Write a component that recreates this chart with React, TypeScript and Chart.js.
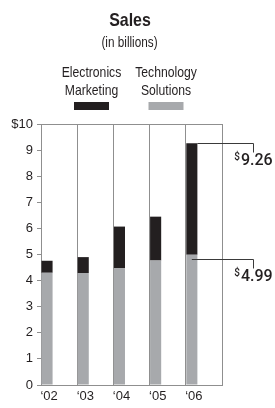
import React, { useEffect, useRef } from 'react';
import { Chart, registerables } from 'chart.js';

Chart.register(...registerables);

// ---- data ----
const years = ['‘02', '‘03', '‘04', '‘05', '‘06'];
const technologySolutions = [4.3, 4.29, 4.47, 4.77, 4.99];
const electronicsMarketing = [0.46, 0.61, 1.6, 1.68, 4.27];
const yMin = 0;
const yMax = 10;
const yStep = 1;
const titleText = 'Sales';
const subtitleText = '(in billions)';
const emLegendLines = ['Electronics', 'Marketing'];
const tsLegendLines = ['Technology', 'Solutions'];

// ---- style ----
const EM_COLOR = '#231f20';
const TS_COLOR = '#a7a9ac';
const GRID_COLOR = '#8f8f8f';
const TEXT_COLOR = '#231f20';
const REGULAR = "'Liberation Sans', Arial, sans-serif";
const CALLOUT_FONT = "Roboto, 'Liberation Sans', sans-serif";
const CONDENSE = 0.84;

function fillCondensed(ctx: CanvasRenderingContext2D, text: string, cx: number, y: number) {
  ctx.save();
  ctx.translate(cx, y);
  ctx.scale(CONDENSE, 1);
  ctx.textAlign = 'center';
  ctx.fillText(text, 0, 0);
  ctx.restore();
}

const decorPlugin = {
  id: 'decor',
  afterDraw(chart: any) {
    const { ctx, chartArea } = chart;
    const { left, right, top } = chartArea;
    ctx.save();

    // plot box: top line
    ctx.strokeStyle = GRID_COLOR;
    ctx.lineWidth = 1;
    ctx.beginPath();
    ctx.moveTo(left, Math.round(top) + 0.5);
    ctx.lineTo(right, Math.round(top) + 0.5);
    ctx.stroke();

    // title
    ctx.fillStyle = TEXT_COLOR;
    ctx.textBaseline = 'alphabetic';
    ctx.font = `bold 19px ${REGULAR}`;
    fillCondensed(ctx, titleText, 130, 26);
    ctx.font = `14px ${REGULAR}`;
    fillCondensed(ctx, subtitleText, 129.5, 47);

    // legend
    const legendItems = [
      { lines: emLegendLines, color: EM_COLOR, cx: 91.5 },
      { lines: tsLegendLines, color: TS_COLOR, cx: 166 },
    ];
    ctx.font = `14.5px ${REGULAR}`;
    for (const item of legendItems) {
      ctx.fillStyle = TEXT_COLOR;
      fillCondensed(ctx, item.lines[0], item.cx, 76.5);
      fillCondensed(ctx, item.lines[1], item.cx, 94.5);
      ctx.fillStyle = item.color;
      ctx.fillRect(item.cx - 17.5, 102, 35, 8);
    }

    // callouts on last bar
    const last = years.length - 1;
    const yScale = chart.scales.y;
    const emBar = chart.getDatasetMeta(1).data[last];
    const tsBar = chart.getDatasetMeta(0).data[last];
    const total = technologySolutions[last] + electronicsMarketing[last];
    const callouts = [
      { value: total, startX: emBar.x + emBar.width / 2, y: yScale.getPixelForValue(total) },
      { value: technologySolutions[last], startX: tsBar.x, y: yScale.getPixelForValue(technologySolutions[last]) + 4 },
    ];
    const lx = right + 31.5;
    for (const c of callouts) {
      const y = Math.round(c.y) + 0.5;
      ctx.strokeStyle = '#3a3a3a';
      ctx.lineWidth = 1;
      ctx.beginPath();
      ctx.moveTo(c.startX, y);
      ctx.lineTo(lx, y);
      ctx.lineTo(lx, y + 9);
      ctx.stroke();

      const num = c.value.toFixed(2);
      ctx.font = `500 16px ${CALLOUT_FONT}`;
      const wNum = ctx.measureText(num).width;
      ctx.font = `500 10px ${CALLOUT_FONT}`;
      const wDol = ctx.measureText('$').width;
      const totalW = wDol + 1 + wNum;
      const x0 = lx - totalW / 2;
      const baseline = y + 9 + 12;
      ctx.textAlign = 'left';
      ctx.fillStyle = TEXT_COLOR;
      ctx.fillText('$', x0, baseline - 4.5);
      ctx.font = `500 16px ${CALLOUT_FONT}`;
      ctx.fillText(num, x0 + wDol + 1, baseline);
    }
    ctx.restore();
  },
};

export default function App() {
  const canvasRef = useRef<HTMLCanvasElement | null>(null);

  useEffect(() => {
    document.body.style.margin = '0';
    const canvas = canvasRef.current;
    if (!canvas) return;
    const chart = new Chart(canvas, {
      type: 'bar',
      data: {
        labels: years,
        datasets: [
          {
            label: 'Technology Solutions',
            data: technologySolutions,
            backgroundColor: TS_COLOR,
            stack: 'main',
            borderWidth: 0,
          },
          {
            label: 'Electronics Marketing',
            data: electronicsMarketing,
            backgroundColor: EM_COLOR,
            stack: 'main',
            borderWidth: 0,
          },
          { label: '', data: [], stack: 'pad1' },
          { label: '', data: [], stack: 'pad2' },
        ],
      },
      options: {
        responsive: false,
        animation: false,
        devicePixelRatio: 1,
        layout: { padding: { left: 0, right: 53, top: 124, bottom: 0 } },
        datasets: { bar: { categoryPercentage: 1, barPercentage: 0.92 } },
        plugins: {
          legend: { display: false },
          tooltip: { enabled: false },
          title: { display: false },
        },
        scales: {
          x: {
            type: 'category',
            offset: true,
            grid: { offset: true, color: GRID_COLOR, lineWidth: 1, drawTicks: false },
            border: { color: GRID_COLOR },
            ticks: {
              padding: 5,
              labelOffset: -10,
              maxRotation: 0,
              autoSkip: false,
              color: TEXT_COLOR,
              font: { family: REGULAR, size: 13, lineHeight: 1 },
            },
          },
          y: {
            stacked: true,
            min: yMin,
            max: yMax,
            afterFit: (scale: any) => {
              scale.width = 41;
            },
            grid: { drawOnChartArea: false, color: GRID_COLOR, tickLength: 4 },
            border: { color: GRID_COLOR },
            ticks: {
              stepSize: yStep,
              padding: 4,
              color: TEXT_COLOR,
              font: { family: REGULAR, size: 13 },
              callback: (v: any) => (v === yMax ? '$' + v : String(v)),
            },
          },
        },
      },
      plugins: [decorPlugin],
    });
    return () => chart.destroy();
  }, []);

  return (
    <div style={{ width: 275, height: 408, position: 'relative' }}>
      <canvas ref={canvasRef} width={275} height={408} style={{ display: 'block' }} />
    </div>
  );
}
